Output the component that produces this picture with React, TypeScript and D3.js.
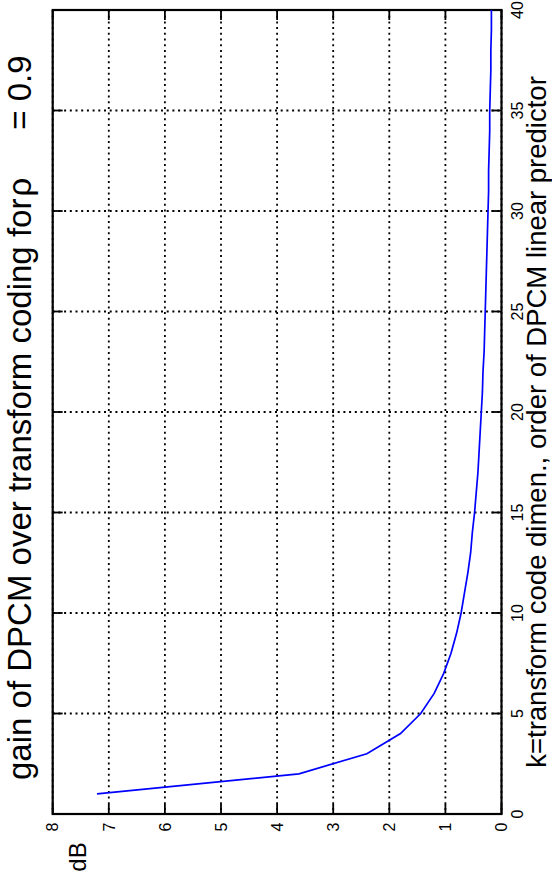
import React from 'react';
import * as d3 from 'd3';

// k = transform code dimension / predictor order
const orders = [1, 2, 3, 4, 5, 6, 7, 8, 9, 10, 11, 12, 13, 14, 15, 16, 17, 18, 19, 20,
  21, 22, 23, 24, 25, 26, 27, 28, 29, 30, 31, 32, 33, 34, 35, 36, 37, 38, 39, 40];
// gain in dB
const gainDb = [7.21, 3.61, 2.40, 1.80, 1.44, 1.20, 1.03, 0.90, 0.80, 0.72,
  0.66, 0.60, 0.55, 0.52, 0.48, 0.45, 0.42, 0.40, 0.38, 0.36,
  0.34, 0.33, 0.31, 0.30, 0.29, 0.28, 0.27, 0.26, 0.25, 0.24,
  0.23, 0.23, 0.22, 0.21, 0.21, 0.20, 0.19, 0.19, 0.18, 0.18];
const dbTicks = [0, 1, 2, 3, 4, 5, 6, 7, 8];
const kTicks = [0, 5, 10, 15, 20, 25, 30, 35, 40];

const font = 'Liberation Sans, Arial, Helvetica, sans-serif';

export default function App() {
  const W = 552, H = 883;
  const left = 52.7, right = 501.5, top = 10, bottom = 814;
  const tickLen = 10;
  const tickFont = 16;

  // rotated plot: dB runs right->left along the bottom, k runs bottom->top along the right
  const x = d3.scaleLinear().domain([0, 8]).range([right, left]);
  const y = d3.scaleLinear().domain([0, 40]).range([bottom, top]);

  const line = d3.line<number>()
    .x((d) => x(d))
    .y((d, i) => y(orders[i]));

  return (
    <svg width={W} height={H} style={{ position: 'absolute', left: 0, top: 0, background: '#fff' }}
      fontFamily={font}>
      <rect x={0} y={0} width={W} height={H} fill="#fff" />

      {/* grid */}
      {dbTicks.map((t) => (
        <line key={'gx' + t} x1={x(t)} x2={x(t)} y1={top} y2={bottom}
          stroke="#000" strokeWidth={1.8} strokeDasharray="2,3.7" />
      ))}
      {kTicks.map((t) => (
        <line key={'gy' + t} x1={left} x2={right} y1={y(t)} y2={y(t)}
          stroke="#000" strokeWidth={1.8} strokeDasharray="2,3.7" />
      ))}

      {/* ticks on all four sides */}
      {dbTicks.map((t) => (
        <g key={'tx' + t}>
          <line x1={x(t)} x2={x(t)} y1={bottom} y2={bottom - tickLen} stroke="#000" strokeWidth={1.8} />
          <line x1={x(t)} x2={x(t)} y1={top} y2={top + tickLen} stroke="#000" strokeWidth={1.8} />
        </g>
      ))}
      {kTicks.map((t) => (
        <g key={'ty' + t}>
          <line x1={right} x2={right - tickLen} y1={y(t)} y2={y(t)} stroke="#000" strokeWidth={1.8} />
          <line x1={left} x2={left + tickLen} y1={y(t)} y2={y(t)} stroke="#000" strokeWidth={1.8} />
        </g>
      ))}

      {/* box */}
      <rect x={left} y={top} width={right - left} height={bottom - top}
        fill="none" stroke="#000" strokeWidth={2.2} />

      {/* curve */}
      <path d={line(gainDb) || ''} fill="none" stroke="#0000ff" strokeWidth={1.7} />

      {/* dB tick labels */}
      {dbTicks.map((t) => (
        <text key={'lx' + t} transform={`translate(${x(t) + tickFont * 0.358},827) rotate(-90)`}
          fontSize={tickFont} textAnchor="middle">{t}</text>
      ))}
      {/* k tick labels */}
      {kTicks.map((t) => (
        <text key={'ly' + t} transform={`translate(523,${y(t)}) rotate(-90)`}
          fontSize={tickFont} textAnchor="middle">{t}</text>
      ))}

      {/* title */}
      <text transform="translate(31,780) rotate(-90)" fontSize={33} textAnchor="start">
        gain of DPCM over transform coding for
        <tspan dx={2}>ρ</tspan>
        <tspan dx={48}>= 0.9</tspan>
      </text>

      {/* axis labels */}
      <text transform="translate(546,422) rotate(-90)" fontSize={27.5} textAnchor="middle">
        k=transform code dimen., order of DPCM linear predictor
      </text>
      <text transform="translate(86,857) rotate(-90)" fontSize={24} textAnchor="middle">dB</text>
    </svg>
  );
}
